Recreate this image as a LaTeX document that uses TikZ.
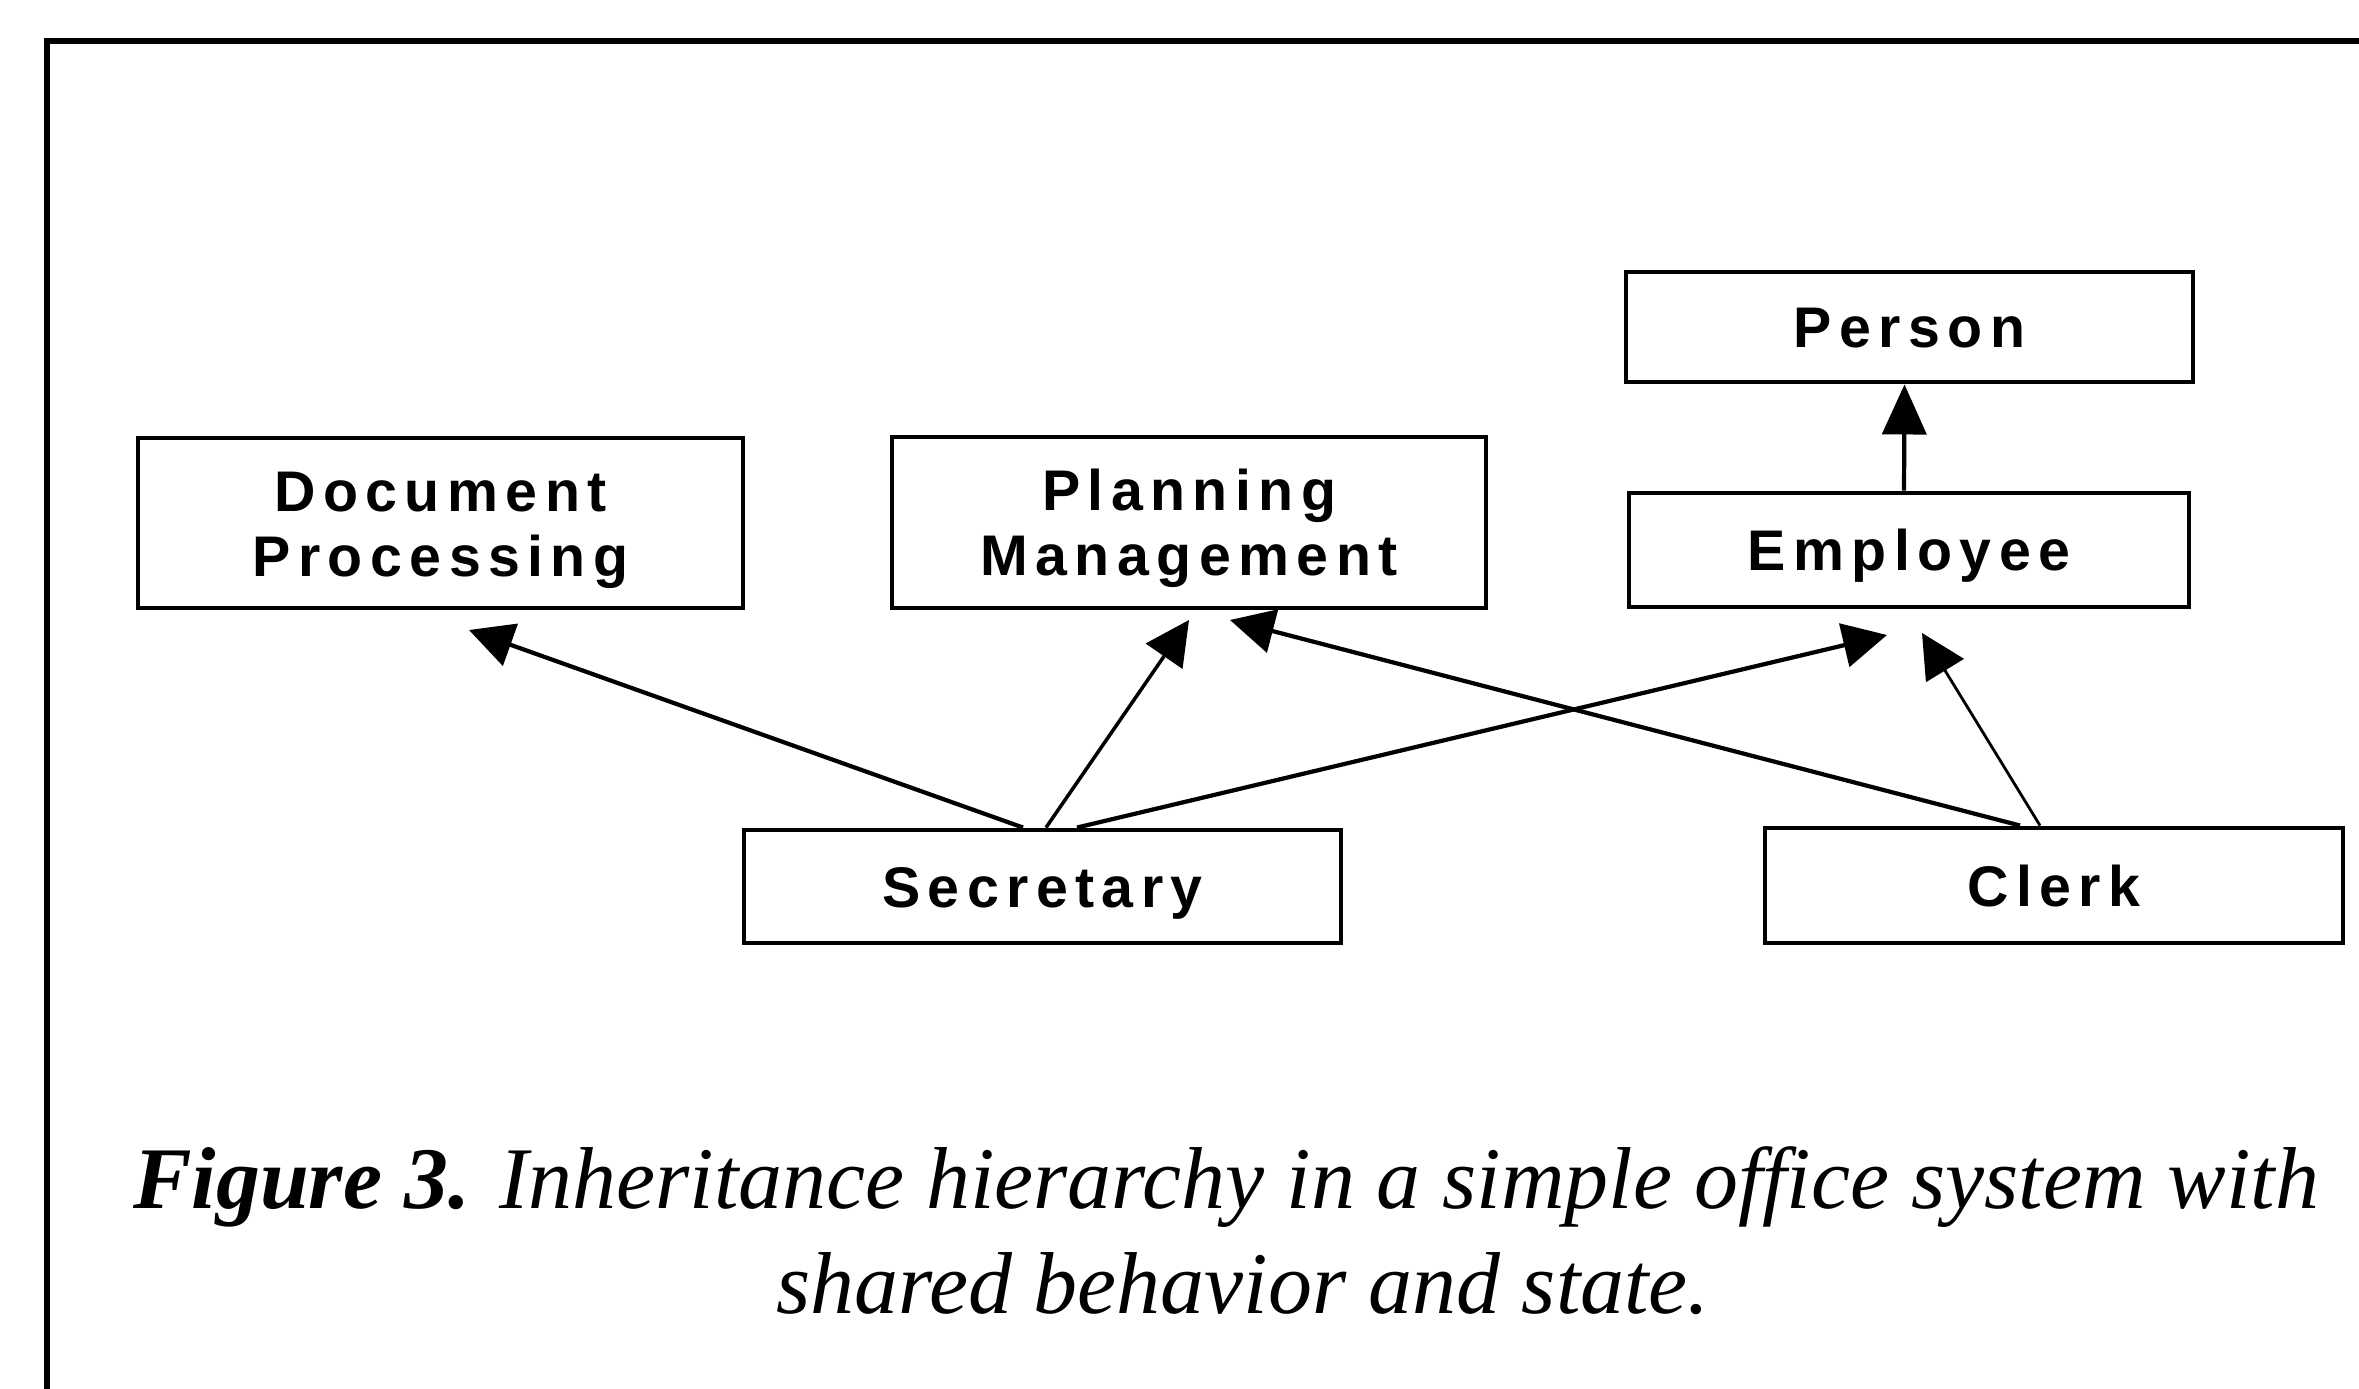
\documentclass[tikz,border=0pt]{standalone}
\usepackage{fontspec}
\setmainfont{Liberation Serif}
\newfontfamily\boxfont{Liberation Sans}[LetterSpace=13]
\usetikzlibrary{arrows.meta}
\tikzset{
  cls/.style={draw, line width=1.4pt, rectangle, inner sep=0pt, align=center,
    font=\boxfont\bfseries\fontsize{16.3pt}{18.4pt}\selectfont,
    text height=0.41cm, text depth=0cm},
  cls2/.style={cls, text height=1.06cm, text depth=0cm},
  inh/.style={line width=1.2pt, -{Triangle[length=0.44cm,width=0.44cm]}},
  frameline/.style={line width=1.7pt},
  captxt/.style={anchor=base, inner sep=0pt, font=\fontsize{25pt}{30pt}\selectfont\itshape}
}
\begin{document}
\begin{tikzpicture}
\useasboundingbox (0,0) rectangle (23.59,-13.89);
% frame
\coordinate (fTR) at (23.59,-0.41);
\coordinate (fTL) at (0.47,-0.41);
\coordinate (fBL) at (0.47,-13.89);
\draw[frameline] (fTR) -- (fTL) -- (fBL);
% classes
\node[cls2, minimum width=6.05cm, minimum height=1.70cm] (doc) at (4.405,-5.23) {Document\\Processing};
\node[cls2, minimum width=5.94cm, minimum height=1.71cm] (pm) at (11.89,-5.225) {Planning\\Management};
\node[cls, minimum width=5.67cm, minimum height=1.10cm] (person) at (19.095,-3.27) {Person};
\node[cls, minimum width=5.60cm, minimum height=1.14cm] (emp) at (19.09,-5.50) {Employee};
\node[cls, minimum width=5.97cm, minimum height=1.13cm] (sec) at (10.425,-8.865) {Secretary};
\node[cls, minimum width=5.78cm, minimum height=1.15cm] (clerk) at (20.54,-8.855) {Clerk};
% arrow tips (free ends)
\coordinate (tDoc) at (4.69,-6.30);
\coordinate (tPMa) at (11.89,-6.20);
\coordinate (tEmpa) at (18.87,-6.35);
\coordinate (tPMb) at (12.30,-6.20);
\coordinate (tEmpb) at (19.22,-6.33);
% connectors
\draw[inh] ([xshift=-0.195cm]sec.north) -- (tDoc);
\draw[inh, line width=1.0pt] ([xshift=0.035cm]sec.north) -- (tPMa);
\draw[inh] ([xshift=0.345cm]sec.north) -- (tEmpa);
\draw[inh] ([xshift=-0.34cm]clerk.north) -- (tPMb);
\draw[inh, line width=0.8pt] ([xshift=-0.14cm]clerk.north) -- (tEmpb);
\draw[line width=1.2pt, -{Triangle[length=0.5cm,width=0.44cm]}] ([xshift=-0.05cm]emp.north) -- ([xshift=-0.05cm]person.south);
% caption
\node[captxt] (cap1) at (12.26,-12.08) {\textbf{Figure 3.} Inheritance hierarchy in a simple office system with};
\node[captxt] (cap2) at (12.43,-13.13) {shared behavior and state.};
\end{tikzpicture}
\end{document}
